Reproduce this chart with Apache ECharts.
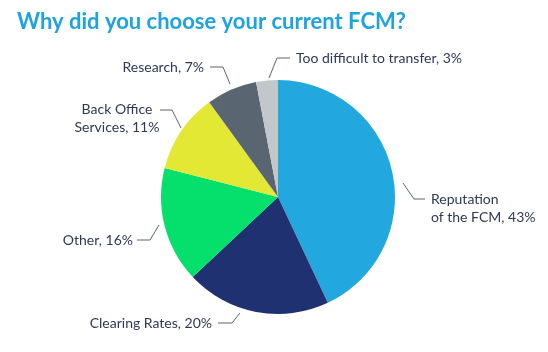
<!DOCTYPE html>
<html>
<head>
<meta charset="utf-8">
<script src="https://cdn.jsdelivr.net/npm/echarts@6/dist/echarts.min.js"></script>
<style>
  html, body { margin: 0; padding: 0; background: #fff; }
  #chart { width: 548px; height: 352px; }
</style>
</head>
<body>
<div id="chart"></div>
<script>
var names = ["Reputation\nof the FCM", "Clearing Rates", "Other", "Back Office\nServices", "Research", "Too difficult to transfer"];
var values = [43, 20, 16, 11, 7, 3];
var colors = ["#22a8df", "#1f3170", "#05e06c", "#e2e833", "#596672", "#c2c7cc"];

// where each label and its leader line sit (hand placed, like the original)
var labelSpots = [
  { line: [[403, 183], [414, 199], [425, 199]], x: 431, y: 208, align: "left" },
  { line: [[240, 313], [232, 323], [218, 323]], x: 212, y: 323, align: "right" },
  { line: [[159, 225], [150, 240], [137, 240]], x: 133, y: 240, align: "right" },
  { line: [[181, 128], [172, 110], [160, 110]], x: 117, y: 118, align: "center" },
  { line: [[230, 84], [223, 67], [210, 67]], x: 204, y: 67, align: "right" },
  { line: [[269, 78], [277, 58], [290, 58]], x: 296, y: 58, align: "left" }
];

var chart = echarts.init(document.getElementById("chart"));

var data = [];
names.forEach(function (n, i) {
  data.push({ name: n, value: values[i] });
});

var option = {
  backgroundColor: "#fff",
  title: {
    text: "Why did you choose your current FCM?",
    left: 12,
    top: 6,
    textStyle: {
      color: "#1fa3dc",
      fontFamily: "Lato",
      fontWeight: "bold",
      fontSize: 22
    }
  },
  series: [
    {
      type: "pie",
      center: [278, 197],
      radius: [0, 117],
      startAngle: 90,
      clockwise: true,
      color: colors,
      animation: false,
      label: {
        formatter: function (p) { return p.name + ", " + p.value + "%"; },
        color: "#2c3a56",
        fontFamily: "Lato",
        fontSize: 14,
        lineHeight: 18
      },
      labelLine: {
        length: 14,
        length2: 12,
        lineStyle: { color: "#5a6575", width: 1 }
      },
      labelLayout: function (params) {
        var s = labelSpots[params.dataIndex];
        return {
          x: s.x,
          y: s.y,
          align: s.align,
          verticalAlign: "middle",
          labelLinePoints: s.line
        };
      },
      data: data
    }
  ]
};
chart.setOption(option);
</script>
</body>
</html>
